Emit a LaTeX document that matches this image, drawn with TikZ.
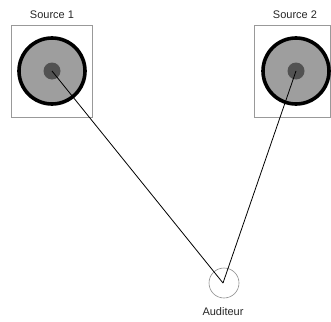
\documentclass[tikz,border=0pt]{standalone}
\usepackage{fontspec}
\setmainfont{Liberation Sans}
\begin{document}
\begin{tikzpicture}[x=1pt,y=-1pt,
  label/.style={font=\fontsize{11}{13}\selectfont, text=black!85, inner sep=0pt},
  frame/.style={draw=black!40, line width=0.7pt},
  cone/.style={circle, draw=black, line width=3.6pt, fill=black!38, minimum size=66pt, inner sep=0pt},
  dustcap/.style={circle, fill=black!68, minimum size=17pt, inner sep=0pt},
  ear/.style={circle, draw=black!45, line width=0.6pt, minimum size=30pt, inner sep=0pt},
  ray/.style={draw=black, line width=0.8pt}]
  \useasboundingbox (0,0) rectangle (331,321);
  % loudspeaker frames
  \draw[frame] (11,25) rectangle (92,117);
  \draw[frame] (254,25) rectangle (330,117);
  % loudspeakers
  \node[cone] (s1) at (52,71) {};
  \node[dustcap] (c1) at (52,71) {};
  \node[cone] (s2) at (296,71) {};
  \node[dustcap] (c2) at (296,71) {};
  % listener
  \node[ear] (ear) at (224,283) {};
  \coordinate (pos) at (223,283);
  % direct paths
  \draw[ray] (c1.center) -- (pos);
  \draw[ray] (c2.center) -- (pos);
  % labels
  \node[label] (l1) at (52,15) {Source 1};
  \node[label] (l2) at (295,15) {Source 2};
  \node[label] (l3) at (223,312) {Auditeur};
\end{tikzpicture}
\end{document}
